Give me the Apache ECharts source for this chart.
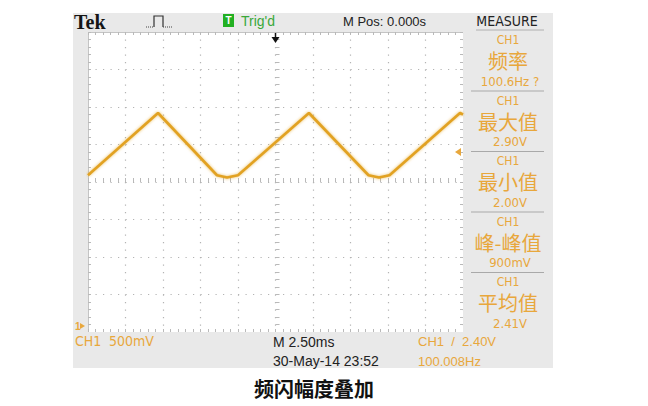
<!DOCTYPE html>
<html><head><meta charset="utf-8">
<script src="https://cdn.jsdelivr.net/npm/echarts@6/dist/echarts.min.js"></script>
<style>html,body{margin:0;padding:0;background:#fff;}#c{width:648px;height:406px;}</style>
</head><body><div id="c"></div>
<script>
// ---- data (time in ms, voltage in V) ----
const timeMs = [0, 4.67, 8.6, 9.27, 10.0, 14.73, 18.7, 19.4, 20.1, 24.8, 25];
const volts  = [2.09, 2.92, 2.09, 2.06, 2.09, 2.92, 2.09, 2.06, 2.09, 2.92, 2.90];
const timeRange = [0, 25];      // 10 div x 2.5 ms
const voltRange = [0, 4];       // 8 div x 500 mV
const timePerDiv = 2.5;
const voltPerDiv = 0.5;
const trigTime = 12.5;          // M Pos 0.000s -> screen centre
const trigLevel = 2.40;
const groundLevel = 0;
const measureChannel = ['CH1', 'CH1', 'CH1', 'CH1', 'CH1'];
const measureNames = ['频率', '最大值', '最小值', '峰-峰值', '平均值'];
const measureValues = ['100.6Hz ?', '2.90V', '2.00V', '900mV', '2.41V'];
const headerTexts = { brand: 'Tek', trig: "Trig'd", mpos: 'M Pos: 0.000s', measure: 'MEASURE' };
const footerTexts = { ch: 'CH1', scale: '500mV', timebase: 'M 2.50ms', date: '30-May-14 23:52', trigInfo: 'CH1  /  2.40V', freq: '100.008Hz' };
const caption = '频闪幅度叠加';

const orange = '#e8a73c';
const waveColor = '#e2a222';
const panelGray = '#e9e9e9';
const dotColor = '#b4b4b4';
const tickColor = '#b9b9b9';
const NARROW = "'Liberation Sans Narrow','DejaVu Sans Condensed','Liberation Sans',sans-serif";
const SANS = "'Liberation Sans',Arial,sans-serif";
const CJK = "'Noto Sans CJK SC',sans-serif";

const G = { left: 88, top: 32, width: 375, height: 300 };

const chart = echarts.init(document.getElementById('c'), null, { renderer: 'svg' });

function edgeAxis(extra) {
  return Object.assign({
    type: 'value', axisLabel: { show: false },
    axisLine: { show: true, onZero: false, lineStyle: { color: '#c4c4c4', width: 1 } },
    axisTick: { show: true, inside: true, length: 3, lineStyle: { color: tickColor } },
    minorTick: { show: true, splitNumber: 5, length: 3, lineStyle: { color: tickColor } },
    splitLine: { show: false }
  }, extra);
}
const dotted = { show: true, lineStyle: { color: dotColor, width: 1.2, type: [1.2, 6.3] } };

chart.setOption({
  animation: false,
  backgroundColor: '#ffffff',
  grid: { left: G.left, top: G.top, width: G.width, height: G.height, show: true,
          backgroundColor: '#ffffff', borderWidth: 0, outerBoundsMode: 'none', containLabel: false },
  xAxis: [
    edgeAxis({ min: timeRange[0], max: timeRange[1], interval: timePerDiv, position: 'bottom', splitLine: dotted }),
    edgeAxis({ min: timeRange[0], max: timeRange[1], interval: timePerDiv, position: 'top' }),
    { type: 'value', min: timeRange[0], max: timeRange[1], interval: timePerDiv / 5, position: 'bottom',
      axisLabel: { show: false }, splitLine: { show: false },
      axisLine: { show: true, onZero: true, onZeroAxisIndex: 3, lineStyle: { opacity: 0 } },
      axisTick: { show: true, inside: true, length: 4, lineStyle: { color: tickColor } } },
    { type: 'value', min: -(timeRange[1] - timeRange[0]) / 2, max: (timeRange[1] - timeRange[0]) / 2, show: false }
  ],
  yAxis: [
    edgeAxis({ min: voltRange[0], max: voltRange[1], interval: voltPerDiv, position: 'left', splitLine: dotted }),
    edgeAxis({ min: voltRange[0], max: voltRange[1], interval: voltPerDiv, position: 'right' }),
    { type: 'value', min: voltRange[0], max: voltRange[1], interval: voltPerDiv / 5, position: 'left',
      axisLabel: { show: false }, splitLine: { show: false },
      axisLine: { show: true, onZero: true, onZeroAxisIndex: 3, lineStyle: { opacity: 0 } },
      axisTick: { show: true, inside: true, length: 4, lineStyle: { color: tickColor } } },
    { type: 'value', min: -(voltRange[1] - voltRange[0]) / 2, max: (voltRange[1] - voltRange[0]) / 2, show: false }
  ],
  series: [{
    type: 'line', xAxisIndex: 0, yAxisIndex: 0, symbol: 'none', smooth: false,
    data: timeMs.map((t, i) => [t, volts[i]]),
    lineStyle: { color: waveColor, width: 2.6, shadowColor: 'rgba(226,162,34,0.7)', shadowBlur: 3 },
    z: 5
  }]
});

// ---- decorations ----
function txt(x, y, text, font, fill, align) {
  return { type: 'text', x: x, y: y, silent: true, z: 10,
    style: { text: text, font: font, fill: fill, align: align || 'left', textAlign: align || 'left',
             verticalAlign: 'middle', textVerticalAlign: 'middle' } };
}
function rect(x, y, w, h, fill) {
  return { type: 'rect', shape: { x: x, y: y, width: w, height: h }, style: { fill: fill }, silent: true, z: 1 };
}
function line(x1, y1, x2, y2, stroke, w, dash) {
  return { type: 'line', shape: { x1: x1, y1: y1, x2: x2, y2: y2 }, style: { stroke: stroke, lineWidth: w || 1, lineDash: dash || null }, silent: true, z: 10 };
}

const R = G.left + G.width, B = G.top + G.height;
const panelL = 73, panelR = 553, panelT = 13, panelB = 368;
const trigX = chart.convertToPixel({ xAxisIndex: 0 }, trigTime);
const trigY = chart.convertToPixel({ yAxisIndex: 0 }, trigLevel);
const gndY = chart.convertToPixel({ yAxisIndex: 0 }, groundLevel);

const gfx = [
  rect(panelL, panelT, panelR - panelL, G.top - panelT, panelGray),
  rect(panelL, G.top, G.left - panelL, G.height, panelGray),
  rect(R, G.top, panelR - R, G.height, panelGray),
  rect(panelL, B, panelR - panelL, panelB - B, panelGray),
  // header
  txt(74, 22, headerTexts.brand, "bold 20px 'Liberation Serif',serif", '#151515'),
  { type: 'polyline', shape: { points: [[154, 27], [154, 16], [163, 16], [163, 27]] }, style: { stroke: '#333', lineWidth: 1.2, fill: null }, silent: true, z: 10 },
  line(146, 27, 154, 27, '#444', 1.2, [1, 1]),
  line(163, 27, 172, 27, '#444', 1.2, [1, 1]),
  { type: 'rect', shape: { x: 223, y: 14, width: 11, height: 13 }, style: { fill: '#22b022' }, silent: true, z: 10 },
  txt(228.5, 20.5, 'T', "bold 10px " + SANS, '#ffffff', 'center'),
  txt(241, 21, headerTexts.trig, "14px " + SANS, '#3aa83a'),
  txt(343, 21, headerTexts.mpos, "13px " + SANS, '#222'),
  txt(507, 21, headerTexts.measure, "14px " + NARROW, '#222', 'center'),
  line(476, 30, 544, 30, '#b0b0b0', 1),
  // trigger position arrow (top)
  line(trigX, 33, trigX, 39, '#111', 1.5),
  { type: 'polygon', shape: { points: [[trigX - 4, 37], [trigX + 4, 37], [trigX, 43]] }, style: { fill: '#111' }, silent: true, z: 10 },
  // trigger level arrow (right edge)
  { type: 'polygon', shape: { points: [[R - 8, trigY], [R - 2, trigY - 4], [R - 2, trigY + 4]] }, style: { fill: orange }, silent: true, z: 10 },
  // ground marker
  txt(75, gndY - 6, '1', "bold 10px " + SANS, orange),
  { type: 'polygon', shape: { points: [[80, gndY - 9], [80, gndY - 3], [85, gndY - 6]] }, style: { fill: orange }, silent: true, z: 10 },
  // footer
  txt(75, 341, footerTexts.ch, "14px " + NARROW, orange),
  txt(109, 341, footerTexts.scale, "14px " + NARROW, orange),
  txt(273, 342, footerTexts.timebase, "14px " + SANS, '#222'),
  txt(273, 361, footerTexts.date, "14px " + SANS, '#222'),
  txt(418, 341, footerTexts.trigInfo, "13px " + SANS, orange),
  txt(418, 361, footerTexts.freq, "13px " + SANS, orange),
  // caption
  txt(314, 388, caption, "bold 20px " + CJK, '#111', 'center')
];

measureNames.forEach(function (name, i) {
  const base = 40 + 60.5 * i;
  gfx.push(txt(508, base, measureChannel[i], "12px " + NARROW, orange, 'center'));
  gfx.push(txt(508, base + 20.5, name, "20px " + CJK, orange, 'center'));
  gfx.push(txt(510, base + 41, measureValues[i], "13px " + NARROW, orange, 'center'));
  if (i > 0) gfx.push(line(471, base - 9.5, 544, base - 9.5, '#a9a9a9', 1));
});

chart.setOption({ graphic: gfx });
</script>
</body></html>
